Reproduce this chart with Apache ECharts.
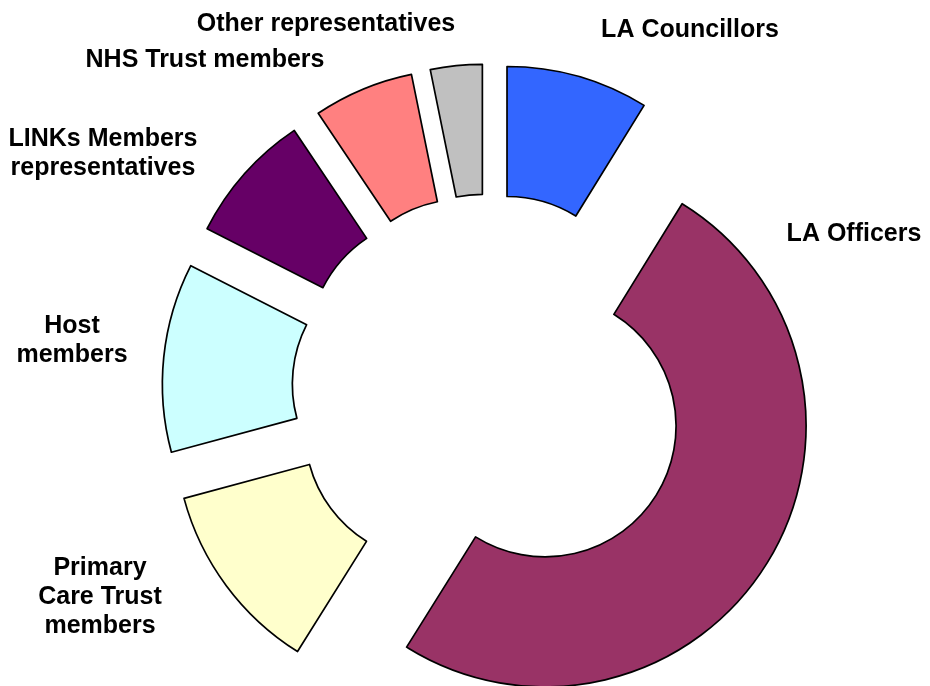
<!DOCTYPE html>
<html><head><meta charset="utf-8">
<script src="https://cdn.jsdelivr.net/npm/echarts@6/dist/echarts.min.js"></script>
<style>html,body{margin:0;padding:0;background:#fff}#chart{width:930px;height:686px}</style>
</head><body><div id="chart"></div>
<script>
// Data
const categories = ['LA Councillors', 'LA Officers', 'Primary\nCare Trust\nmembers', 'Host\nmembers', 'LINKs Members\nrepresentatives', 'NHS Trust members', 'Other representatives'];
const shares = [8.8, 50.1, 11.9, 11.7, 8.1, 6.2, 3.2];
const colors = ['#3366FF', '#993366', '#FFFFCC', '#CCFFFF', '#660066', '#FF8080', '#C0C0C0'];

// Layout (label anchor centres, px)
const labelAnchors = [[690, 30], [854, 234], [100, 597], [72, 341], [103, 154], [205, 60], [326, 24]];

const chart = echarts.init(document.getElementById('chart'), null, { renderer: 'canvas' });
const data = categories.map((name, i) => ({
  name: name,
  value: shares[i],
  selected: true,
  itemStyle: { color: colors[i] }
}));

const labelFont = 'bold 25px "Liberation Sans", Arial, sans-serif';
const labels = categories.map((name, i) => ({
  type: 'text',
  x: labelAnchors[i][0],
  y: labelAnchors[i][1],
  silent: true,
  style: {
    text: name,
    font: labelFont,
    fill: '#000000',
    lineHeight: 29,
    textAlign: 'center',
    textVerticalAlign: 'middle'
  }
}));

chart.setOption({
  animation: false,
  backgroundColor: '#ffffff',
  graphic: { elements: labels },
  series: [{
    type: 'pie',
    center: [489, 391],
    radius: [131, 261],
    startAngle: 90,
    clockwise: true,
    selectedMode: 'multiple',
    selectedOffset: 66,
    avoidLabelOverlap: false,
    silent: true,
    emphasis: { disabled: true, scale: false },
    select: { itemStyle: { borderColor: '#000000', borderWidth: 1.7 } },
    itemStyle: { borderColor: '#000000', borderWidth: 1.7 },
    label: { show: false },
    labelLine: { show: false },
    data: data
  }]
});
</script>
</body></html>
